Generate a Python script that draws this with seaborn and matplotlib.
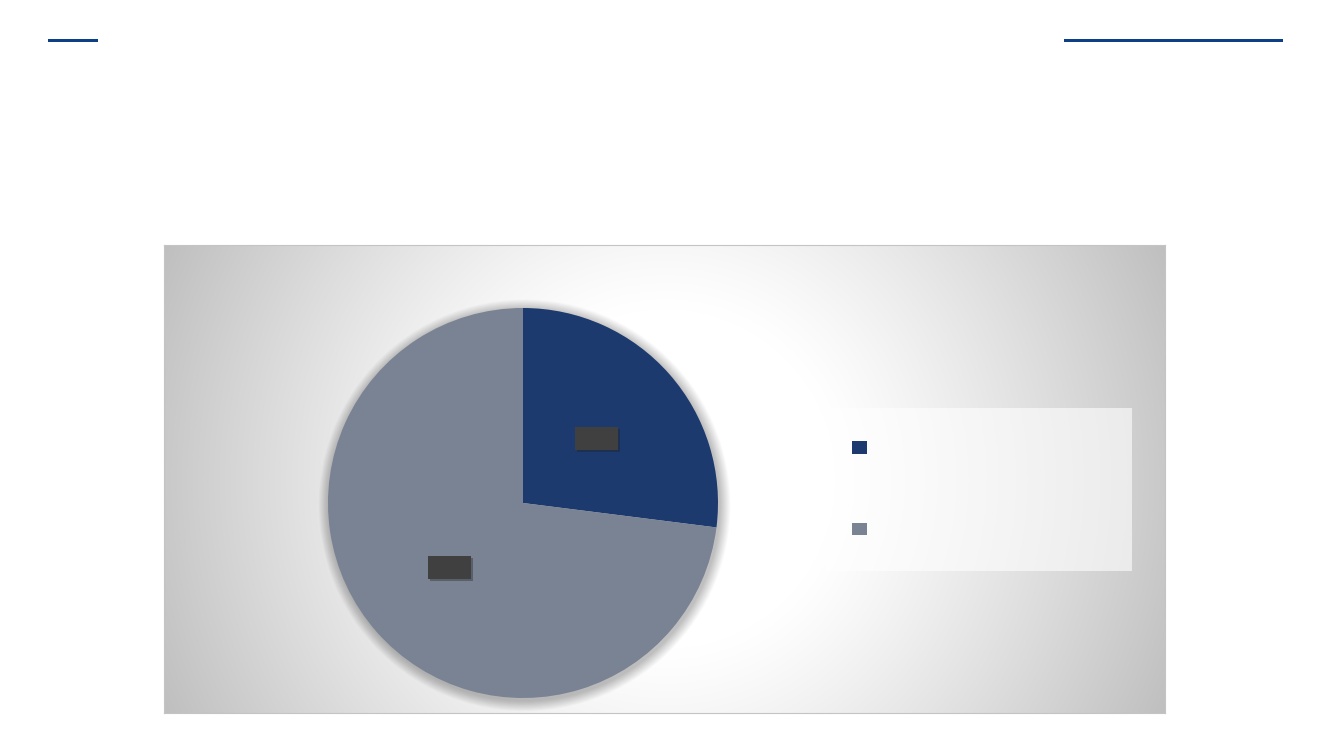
import numpy as np
import matplotlib
matplotlib.use("Agg")
import matplotlib.pyplot as plt
import matplotlib.patheffects as pe
from matplotlib.patches import Patch, Rectangle, Circle
import seaborn as sns

# ---- data ----
categories = ["A", "B"]
values = [27, 73]
colors = ["#1c3a6e", "#7a8393"]

sns.set_theme(style="white")
plt.rcParams['font.family'] = ['DejaVu Sans']

W, H = 1333, 750
fig = plt.figure(figsize=(W / 100, H / 100), dpi=100)
fig.patch.set_facecolor("white")

def fax(x0, y0, x1, y1):
    return [x0 / W, 1 - y1 / H, (x1 - x0) / W, (y1 - y0) / H]

# top decorative lines
fig.add_artist(Rectangle((48 / W, 1 - 42 / H), 50 / W, 3 / H, transform=fig.transFigure,
                         color="#0d3f86", lw=0))
fig.add_artist(Rectangle((1064 / W, 1 - 42 / H), 219 / W, 3 / H, transform=fig.transFigure,
                         color="#0d3f86", lw=0))

# chart area background with radial gradient
bg = fig.add_axes(fax(164, 245, 1165, 713))
nx, ny = 1001, 468
xx, yy = np.meshgrid(np.arange(nx), np.arange(ny))
r = np.hypot(xx - nx / 2, yy - ny / 2)
g = 1 - 0.25 * np.clip((r - 170) / 380, 0, 1) ** 1.15
bg.imshow(np.dstack([g, g, g]), aspect="auto", extent=[0, nx, ny, 0])
bg.set_xticks([]); bg.set_yticks([])
for s in bg.spines.values():
    s.set_color("#c4c4c4"); s.set_linewidth(0.8)

# legend box
fig.add_artist(Rectangle((826 / W, 1 - 571 / H), 306 / W, 163 / H, transform=fig.transFigure,
                         facecolor="white", alpha=0.6, lw=0))

# pie
R = 195
cx, cy = 523, 503
ext = 1.15
ax = fig.add_axes(fax(cx - R * ext, cy - R * ext, cx + R * ext, cy + R * ext))
ax.set_facecolor("none")
ax.patch.set_alpha(0)
# soft shadow
for k in range(16):
    rad = 1.0 + 0.0035 * (k + 1)
    ax.add_patch(Circle((0.008, -0.012), rad, color="black", alpha=0.014, lw=0, zorder=0))

wedges, texts, autotexts = ax.pie(values, colors=colors, startangle=90, counterclock=False,
                                  autopct=lambda p: "\u2003\u2003\u2002", pctdistance=0.5,
                                  textprops=dict(fontsize=10),
                                  wedgeprops=dict(linewidth=0, zorder=2))
for t in autotexts:
    t.set_bbox(dict(boxstyle="square,pad=0.3", facecolor="#404040", edgecolor="none"))
    t.get_bbox_patch().set_path_effects([pe.SimplePatchShadow(offset=(1.5, -1.5), alpha=0.35,
                                                              shadow_rgbFace="#202020"),
                                         pe.Normal()])
ax.set_xlim(-ext, ext); ax.set_ylim(-ext, ext)
ax.set_aspect("equal")
ax.axis("off")

# legend markers
handles = [Patch(facecolor=c, edgecolor="none") for c in colors]
leg = fig.legend(handles, [" ", " "], loc="upper left",
                 bbox_to_anchor=(852 / W, 1 - 441 / H), frameon=False,
                 fontsize=10, handlelength=1.05, handleheight=1.05, handletextpad=0.5,
                 labelspacing=4.85, borderpad=0, borderaxespad=0)

fig.savefig("out.png", dpi=100)
